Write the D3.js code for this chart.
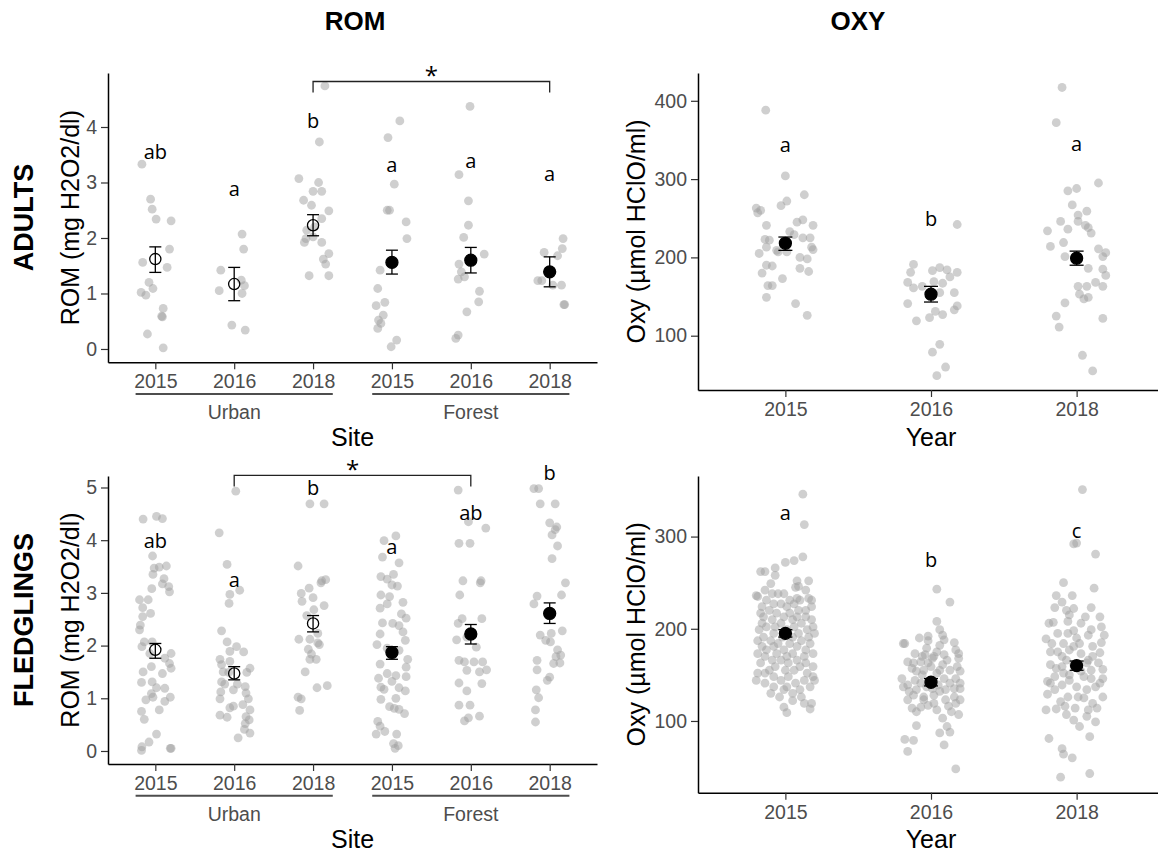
<!DOCTYPE html>
<html>
<head>
<meta charset="utf-8">
<script src="https://cdn.jsdelivr.net/npm/d3@7"></script>
<style>
body { margin: 0; background: #fff; }
text { font-family: "Liberation Sans", Arial, sans-serif; }
.lett { font-family: "Open Sans", sans-serif; }
</style>
</head>
<body>
<div id="chart"></div>
<script>
// categories
var siteYears = ["2015", "2016", "2018", "2015", "2016", "2018"];
var siteGroups = ["Urban", "Urban", "Urban", "Forest", "Forest", "Forest"];
var oxyYears = ["2015", "2016", "2018"];

// ROM adults: [jitter (in category steps), value] per group
var romAdultPts = [
  [[-0.17,3.33],[-0.06,2.70],[-0.04,2.52],[0.01,2.34],[0.20,2.31],[0.18,1.80],[-0.16,1.56],[0.15,1.47],[-0.08,1.20],[-0.03,1.09],[-0.18,1.02],[-0.12,0.97],[0.10,0.73],[0.08,0.59],[0.09,0.58],[-0.10,0.27],[0.10,0.02]],
  [[0.10,2.07],[0.12,1.80],[-0.17,1.42],[0.09,1.24],[0.13,1.14],[-0.19,1.05],[0.10,1.00],[-0.03,0.43],[0.14,0.34]],
  [[0.15,4.74],[0.08,3.73],[-0.18,3.07],[0.07,3.00],[0.00,2.84],[0.11,2.84],[-0.12,2.68],[-0.02,2.59],[0.20,2.49],[0.11,2.35],[-0.08,2.14],[0.00,2.02],[-0.09,1.99],[-0.11,1.92],[0.11,1.92],[0.20,1.72],[0.13,1.62],[0.16,1.53],[-0.05,1.32],[0.20,1.32],[0.02,2.20]],
  [[0.10,4.11],[-0.05,3.81],[0.03,2.97],[-0.06,2.50],[-0.03,2.50],[0.18,2.29],[0.19,1.99],[-0.15,1.42],[-0.18,1.09],[-0.20,0.78],[-0.09,0.84],[-0.11,0.61],[-0.17,0.52],[-0.14,0.46],[-0.18,0.37],[0.06,0.16],[-0.01,0.04]],
  [[-0.01,4.37],[-0.15,3.14],[-0.03,2.67],[-0.03,2.23],[-0.09,2.01],[0.17,1.71],[-0.15,1.53],[-0.12,1.39],[-0.16,1.26],[-0.08,1.30],[0.11,1.04],[0.10,0.85],[-0.05,0.67],[-0.16,0.25],[-0.19,0.19]],
  [[0.17,1.99],[0.16,1.81],[-0.07,1.74],[0.10,1.68],[-0.15,1.23],[-0.10,1.23],[0.04,1.15],[0.15,1.15],[0.18,0.80],[0.19,0.80]]
];
var romAdultMean = [1.62, 1.17, 2.23, 1.56, 1.60, 1.39];
var romAdultLo = [1.38, 0.87, 2.04, 1.35, 1.37, 1.12];
var romAdultHi = [1.84, 1.47, 2.42, 1.78, 1.83, 1.66];
var romAdultLetters = ["ab", "a", "b", "a", "a", "a"];
var romAdultLetterY = [3.43, 2.76, 3.99, 3.19, 3.26, 3.03];

// OXY adults
var oxyAdultPts = [
  [[-0.135,388],[0.00,304],[0.13,280],[0.01,272],[-0.03,266],[-0.20,263],[-0.17,260],[-0.19,257],[-0.13,241],[0.08,245],[0.12,248],[0.19,241],[0.03,233],[0.06,229],[-0.14,223],[-0.11,222],[0.12,225],[0.17,225],[-0.13,213],[-0.06,209],[-0.05,207],[0.01,207],[0.18,213],[0.19,210],[-0.18,205],[0.10,200],[0.15,198],[-0.13,190],[-0.09,189],[0.10,186],[0.16,182],[-0.16,180],[-0.02,173],[-0.12,164],[-0.09,164],[-0.13,149],[0.07,141],[0.15,126]],
  [[0.18,242],[-0.12,191],[-0.14,181],[0.01,183],[0.06,187],[0.11,184],[0.18,181],[0.13,175],[-0.16,168],[0.02,169],[0.08,167],[-0.12,161],[-0.06,163],[0.06,155],[0.16,155],[-0.01,151],[-0.16,141],[0.18,138],[0.16,133],[0.03,131],[0.08,127],[-0.01,123],[-0.10,119],[0.06,89],[0.01,79],[0.10,60],[0.04,49]],
  [[-0.10,417],[-0.14,372],[0.15,295],[-0.06,285],[0.00,288],[-0.03,267],[0.07,259],[0.01,254],[-0.11,246],[0.01,246],[-0.06,236],[0.06,241],[0.08,238],[-0.20,234],[0.10,231],[-0.09,219],[-0.18,214],[0.15,211],[0.20,206],[0.18,201],[-0.08,201],[0.00,200],[0.08,186],[0.18,185],[0.20,177],[0.13,168],[0.01,163],[0.07,163],[0.18,163],[0.02,153],[0.05,147],[0.08,149],[-0.08,142],[-0.14,125],[0.18,122],[-0.12,111],[0.04,75],[0.11,55]]
];
var oxyAdultMean = [218, 153, 199];
var oxyAdultLo = [209, 143, 190];
var oxyAdultHi = [226, 163, 208];
var oxyAdultLetters = ["a", "b", "a"];
var oxyAdultLetterY = [334, 240, 336];

// ROM fledglings
var romFledgPts = [
  [[-0.155,4.40],[0.015,4.45],[0.09,4.41],[-0.035,3.70],[-0.015,3.47],[0.05,3.49],[0.14,3.51],[-0.03,3.35],[0.11,3.27],[0.09,3.17],[0.17,3.12],[0.18,3.02],[-0.045,3.08],[-0.09,2.87],[-0.20,2.87],[-0.16,2.72],[-0.06,2.61],[-0.16,2.55],[-0.19,2.39],[-0.20,2.30],[-0.14,2.07],[-0.04,2.07],[-0.17,1.98],[0.20,1.85],[-0.07,1.85],[0.12,1.76],[0.18,1.66],[0.20,1.57],[-0.155,1.50],[-0.05,1.60],[0.09,1.47],[-0.175,1.30],[-0.04,1.31],[0.015,1.20],[0.12,1.19],[-0.05,1.09],[-0.03,1.02],[-0.12,0.97],[0.19,1.02],[0.12,0.94],[-0.175,0.75],[0.05,0.78],[-0.14,0.60],[0.015,0.32],[-0.08,0.17],[-0.17,0.08],[-0.175,0.01],[0.19,0.05],[0.20,0.05]],
  [[0.02,4.93],[-0.19,4.14],[-0.09,3.54],[-0.055,2.97],[0.07,3.05],[-0.065,2.80],[-0.16,2.28],[-0.09,2.07],[0.03,1.98],[-0.055,1.89],[0.12,1.88],[-0.18,1.74],[-0.16,1.64],[-0.055,1.70],[0.20,1.57],[-0.14,1.50],[-0.07,1.49],[0.16,1.49],[-0.16,1.31],[-0.12,1.27],[0.04,1.27],[-0.01,1.16],[0.14,1.22],[-0.17,1.12],[0.15,1.10],[0.18,0.99],[-0.18,0.99],[-0.055,0.82],[-0.01,0.85],[0.11,0.88],[0.20,0.78],[-0.18,0.68],[-0.09,0.64],[0.15,0.65],[0.14,0.52],[0.19,0.59],[0.13,0.41],[0.20,0.34],[0.05,0.25]],
  [[-0.04,4.69],[0.14,4.69],[-0.19,3.51],[0.11,3.23],[0.16,3.25],[0.10,3.19],[-0.15,2.99],[-0.05,3.09],[0.00,2.91],[0.14,2.76],[-0.14,2.84],[0.01,2.68],[-0.08,2.57],[0.06,2.23],[-0.18,2.12],[-0.04,2.12],[0.08,2.02],[0.06,2.05],[-0.06,1.93],[-0.02,1.84],[-0.04,1.74],[0.04,1.74],[-0.10,1.50],[0.05,1.20],[0.18,1.24],[-0.19,1.02],[-0.15,0.99],[-0.17,0.77]],
  [[0.05,4.08],[-0.10,3.99],[-0.12,3.68],[0.09,3.57],[-0.14,3.31],[-0.06,3.26],[0.02,3.35],[0.07,3.13],[0.00,3.15],[-0.14,2.96],[-0.03,2.93],[0.14,2.82],[-0.06,2.79],[-0.15,2.71],[0.12,2.60],[0.18,2.52],[-0.12,2.43],[0.01,2.42],[0.09,2.38],[0.14,2.26],[-0.15,2.22],[0.17,2.10],[-0.19,2.02],[-0.06,1.95],[0.09,1.91],[0.20,1.74],[-0.15,1.65],[0.18,1.59],[-0.06,1.47],[0.05,1.43],[-0.17,1.38],[0.18,1.41],[0.00,1.32],[-0.14,1.21],[-0.10,1.17],[0.09,1.20],[0.17,1.14],[-0.14,0.98],[0.05,1.00],[-0.03,0.84],[0.03,0.81],[0.09,0.79],[0.16,0.71],[-0.18,0.56],[-0.15,0.47],[-0.20,0.32],[-0.09,0.37],[0.06,0.32],[0.02,0.14],[0.08,0.10],[0.04,0.05]],
  [[-0.16,4.95],[-0.03,4.35],[0.19,4.23],[-0.15,3.94],[-0.01,3.94],[-0.10,3.23],[0.13,3.23],[0.12,3.19],[-0.14,2.96],[0.14,2.51],[-0.11,2.51],[-0.16,2.42],[-0.18,2.11],[-0.05,2.16],[0.07,1.97],[-0.15,1.72],[-0.08,1.69],[0.04,1.69],[0.15,1.69],[-0.05,1.53],[0.11,1.50],[0.20,1.54],[-0.15,1.29],[0.14,1.28],[-0.05,1.14],[-0.15,0.87],[-0.01,0.87],[0.11,0.66],[-0.08,0.57],[-0.03,0.63]],
  [[-0.20,4.98],[-0.14,4.98],[-0.12,4.69],[0.07,4.69],[0.00,4.33],[0.09,4.25],[0.07,4.20],[0.03,4.10],[0.10,3.89],[0.03,3.65],[0.20,3.19],[0.15,2.96],[-0.16,2.94],[-0.20,2.79],[-0.12,2.20],[0.02,2.23],[0.16,2.28],[-0.05,2.10],[0.01,2.07],[0.10,1.92],[0.14,1.82],[0.08,1.79],[-0.16,1.72],[0.05,1.66],[0.13,1.67],[-0.16,1.54],[0.00,1.40],[-0.03,1.34],[-0.17,1.16],[-0.14,1.01],[-0.18,0.78],[-0.18,0.55]]
];
var romFledgMean = [1.92, 1.47, 2.42, 1.87, 2.22, 2.61];
var romFledgLo = [1.76, 1.35, 2.26, 1.74, 2.03, 2.42];
var romFledgHi = [2.04, 1.60, 2.57, 1.98, 2.40, 2.81];
var romFledgLetters = ["ab", "a", "b", "a", "ab", "b"];
var romFledgLetterY = [3.85, 3.12, 4.86, 3.74, 4.38, 5.14];

// OXY fledglings
var oxyFledgPts = [
  [[0.12,346],[0.13,313],[0.12,278],[0.06,274],[0.00,272],[-0.07,266],[-0.17,262],[-0.14,262],[-0.07,258],[0.16,252],[0.08,252],[-0.10,249],[0.09,246],[0.07,245],[-0.14,242],[0.14,242],[-0.09,238],[-0.05,238],[-0.01,238],[-0.19,235],[-0.20,236],[0.16,233],[0.08,233],[-0.13,231],[0.03,231],[0.10,231],[0.18,231],[-0.08,227],[-0.03,227],[0.06,227],[-0.16,224],[0.01,224],[0.18,224],[-0.11,220],[0.09,220],[0.14,220],[0.03,217],[-0.06,217],[-0.17,217],[-0.15,213],[0.08,213],[0.14,213],[-0.01,213],[-0.09,210],[0.05,210],[0.18,210],[-0.16,206],[-0.03,206],[0.11,206],[-0.13,202],[-0.07,202],[0.06,202],[0.19,202],[-0.18,199],[0.01,199],[0.15,199],[-0.08,195],[0.09,195],[0.20,195],[-0.15,191],[-0.02,191],[0.05,191],[0.16,191],[-0.19,187],[-0.10,187],[0.11,187],[-0.05,184],[0.03,184],[0.17,184],[-0.16,181],[-0.08,181],[0.08,181],[-0.13,177],[-0.01,177],[0.14,177],[-0.19,173],[-0.06,173],[0.05,173],[0.19,173],[-0.14,170],[0.01,170],[0.13,170],[-0.09,166],[-0.03,166],[0.08,166],[-0.17,163],[0.02,163],[0.14,163],[-0.07,159],[0.10,159],[0.19,159],[-0.11,155],[0.00,155],[0.06,155],[-0.19,152],[-0.14,152],[0.15,152],[-0.08,148],[0.02,148],[0.19,148],[-0.20,144],[-0.03,144],[0.13,144],[0.20,144],[-0.14,141],[0.07,141],[-0.08,137],[0.01,137],[0.17,137],[-0.01,134],[0.10,134],[-0.10,130],[0.05,130],[0.11,126],[-0.04,126],[0.05,122],[0.18,119],[0.13,119],[-0.01,115],[0.17,113],[0.01,109]],
  [[0.04,243],[0.13,229],[0.04,208],[0.06,199],[0.08,193],[-0.02,192],[-0.08,190],[0.09,188],[-0.02,187],[0.16,185],[-0.19,184],[-0.18,184],[0.06,182],[0.17,177],[0.19,173],[-0.11,173],[-0.04,172],[0.02,170],[-0.16,164],[0.11,166],[-0.07,164],[-0.02,163],[0.18,159],[-0.13,157],[0.06,155],[0.13,155],[-0.20,146],[-0.06,150],[-0.11,144],[0.09,146],[0.17,146],[-0.16,139],[-0.03,137],[0.05,139],[0.20,135],[-0.15,132],[-0.10,134],[0.10,134],[0.02,128],[0.16,126],[-0.16,123],[-0.05,123],[0.20,123],[0.02,119],[0.17,119],[-0.13,114],[-0.07,115],[0.04,112],[0.14,110],[0.19,107],[-0.10,110],[0.08,103],[-0.10,95],[0.11,94],[0.13,88],[0.06,87],[-0.18,80],[-0.12,79],[0.09,74],[-0.16,67],[0.17,48],[0.00,159],[0.04,152],[0.01,144],[-0.07,141],[0.13,141],[-0.05,155],[0.08,161],[-0.12,163],[0.04,175],[-0.03,179],[0.19,168],[0.20,154],[0.20,141],[-0.02,117],[0.10,123],[0.16,135],[-0.19,137],[-0.12,128],[-0.06,170],[0.01,168],[0.09,172],[-0.10,154],[0.01,135],[0.06,132],[-0.05,126],[0.12,116]],
  [[0.04,351],[-0.02,292],[0.00,293],[0.13,281],[-0.09,250],[0.12,244],[-0.14,236],[-0.03,236],[-0.10,229],[-0.15,223],[0.10,223],[-0.07,220],[-0.05,215],[0.16,213],[-0.19,206],[-0.16,207],[-0.06,208],[0.03,206],[0.17,202],[0.10,199],[-0.02,198],[-0.21,189],[-0.13,195],[0.08,193],[0.19,193],[0.17,185],[0.00,190],[-0.09,184],[-0.18,175],[-0.05,177],[0.11,181],[0.16,174],[0.03,173],[-0.10,170],[0.08,166],[-0.18,161],[-0.10,159],[0.15,163],[0.18,156],[0.03,154],[-0.15,148],[-0.05,150],[0.10,146],[-0.20,143],[0.16,141],[-0.10,139],[0.00,137],[-0.15,134],[0.07,134],[-0.20,129],[0.18,126],[-0.06,126],[0.05,125],[-0.11,121],[0.11,119],[-0.21,112],[-0.14,113],[-0.01,114],[0.14,114],[-0.07,107],[0.07,105],[-0.02,101],[0.02,94],[0.13,99],[-0.19,81],[0.09,83],[-0.10,70],[-0.09,64],[-0.03,60],[0.09,43],[-0.11,39],[-0.02,181],[-0.07,166],[-0.14,157],[0.10,155],[-0.05,144],[0.05,148],[-0.09,152],[0.13,137],[-0.18,141],[0.01,126],[0.08,112],[-0.08,116],[-0.17,184],[0.02,184],[0.11,170],[-0.02,161],[0.18,146],[0.07,163],[-0.13,175],[-0.06,195],[0.06,213],[-0.02,222]]
];
var oxyFledgMean = [195, 142, 160];
var oxyFledgLo = [191, 138, 155];
var oxyFledgHi = [199, 146, 165];
var oxyFledgLetters = ["a", "b", "c"];
var oxyFledgLetterY = [318, 267, 298];

var svg = d3.select("#chart")
  .append("svg")
  .attr("width", 1158)
  .attr("height", 855)
  .style("background", "#fff");

function drawPanel(p) {
  var x = d3.scalePoint().domain(d3.range(p.years.length)).range([p.left, p.right]).padding(0.6);
  var y = d3.scaleLinear().domain(p.yDomain).range([p.bottom, p.top]);
  var g = svg.append("g");
  var step = x.step();

  // jittered raw points
  p.points.forEach(function(grp, i) {
    g.selectAll(null)
      .data(grp)
      .enter().append("circle")
      .attr("cx", function(d) { return x(i) + d[0] * step; })
      .attr("cy", function(d) { return y(d[1]); })
      .attr("r", 4.4)
      .style("fill", "#a0a0a0")
      .style("opacity", 0.5);
  });

  // error bars
  var idx = d3.range(p.means.length);
  var eb = g.selectAll(".eb").data(idx).enter().append("g");
  eb.append("line")
    .attr("x1", function(i) { return x(i); }).attr("x2", function(i) { return x(i); })
    .attr("y1", function(i) { return y(p.lo[i]); }).attr("y2", function(i) { return y(p.hi[i]); });
  eb.append("line")
    .attr("x1", function(i) { return x(i) - p.cap; }).attr("x2", function(i) { return x(i) + p.cap; })
    .attr("y1", function(i) { return y(p.lo[i]); }).attr("y2", function(i) { return y(p.lo[i]); });
  eb.append("line")
    .attr("x1", function(i) { return x(i) - p.cap; }).attr("x2", function(i) { return x(i) + p.cap; })
    .attr("y1", function(i) { return y(p.hi[i]); }).attr("y2", function(i) { return y(p.hi[i]); });
  eb.selectAll("line").style("stroke", "#000").style("stroke-width", 1.3);

  // means: open for Urban, filled otherwise
  g.selectAll(".mean").data(idx).enter().append("circle")
    .attr("cx", function(i) { return x(i); })
    .attr("cy", function(i) { return y(p.means[i]); })
    .attr("r", function(i) { return p.groups && p.groups[i] === "Urban" ? 5.6 : 6; })
    .style("fill", function(i) { return p.groups && p.groups[i] === "Urban" ? "none" : "#000"; })
    .style("stroke", "#000")
    .style("stroke-width", 1.3);

  // letters
  g.selectAll(".lett").data(idx).enter().append("text")
    .attr("class", "lett")
    .attr("x", function(i) { return x(i); })
    .attr("y", function(i) { return y(p.letterY[i]); })
    .attr("text-anchor", "middle")
    .style("font-size", "20px")
    .style("fill", "#000")
    .text(function(i) { return p.letters[i]; });

  // significance bracket
  if (p.bracket) {
    var b = p.bracket;
    g.append("path")
      .attr("d", "M" + x(b.from) + "," + y(b.tip) + "V" + y(b.line) + "H" + x(b.to) + "V" + y(b.tip))
      .style("fill", "none").style("stroke", "#222").style("stroke-width", 1.3);
    g.append("text")
      .attr("class", "lett")
      .attr("x", (x(b.from) + x(b.to)) / 2)
      .attr("y", y(b.line) + 3)
      .attr("text-anchor", "middle")
      .style("font-size", "24px")
      .text("*");
  }

  // axes
  var ya = g.append("g")
    .attr("transform", "translate(" + p.left + ",0)")
    .call(d3.axisLeft(y).tickValues(p.yTicks).tickFormat(d3.format("d"))
      .tickSize(7).tickSizeOuter(0).tickPadding(4));
  var xa = g.append("g")
    .attr("transform", "translate(0," + p.bottom + ")")
    .call(d3.axisBottom(x).tickSize(7).tickSizeOuter(0).tickPadding(5)
      .tickFormat(function(i) { return p.years[i]; }));
  [ya, xa].forEach(function(a) {
    a.select(".domain").style("stroke", "#000").style("stroke-width", 1.5);
    a.selectAll(".tick line").style("stroke", "#333").style("stroke-width", 1.2);
    a.selectAll(".tick text").style("font-size", "19.5px").style("fill", "#4D4D4D");
  });

  // Urban / Forest grouping under the years
  var xTitleOff = 55.6;
  if (p.groups) {
    var names = ["Urban", "Forest"];
    names.forEach(function(nm) {
      var ids = idx.filter(function(i) { return p.groups[i] === nm; });
      var x0 = x(ids[0]) - 0.25 * step, x1 = x(ids[ids.length - 1]) + 0.25 * step;
      g.append("line")
        .attr("x1", x0).attr("x2", x1)
        .attr("y1", p.bottom + 31.7).attr("y2", p.bottom + 31.7)
        .style("stroke", "#4D4D4D").style("stroke-width", 2);
      g.append("text")
        .attr("x", (x0 + x1) / 2)
        .attr("y", p.bottom + 56.8)
        .attr("text-anchor", "middle")
        .style("font-size", "19.5px")
        .style("fill", "#4D4D4D")
        .text(nm);
    });
    xTitleOff = 83.5;
  }

  g.append("text")
    .attr("x", (p.left + p.right) / 2)
    .attr("y", p.bottom + xTitleOff)
    .attr("text-anchor", "middle")
    .style("font-size", "25px")
    .text(p.xTitle);

  g.append("text")
    .attr("transform", "translate(" + p.yTitleX + "," + ((p.top + p.bottom) / 2) + ") rotate(-90)")
    .attr("text-anchor", "middle")
    .style("font-size", "25px")
    .text(p.yTitle);
}

drawPanel({
  left: 108, right: 597, top: 73, bottom: 362.3,
  yDomain: [-0.24, 4.973], yTicks: [0, 1, 2, 3, 4],
  years: siteYears, groups: siteGroups,
  points: romAdultPts, means: romAdultMean, lo: romAdultLo, hi: romAdultHi, cap: 6,
  letters: romAdultLetters, letterY: romAdultLetterY,
  bracket: { from: 2, to: 5, line: 4.82, tip: 4.62 },
  xTitle: "Site", yTitle: "ROM (mg H2O2/dl)", yTitleX: 79
});

drawPanel({
  left: 698, right: 1164, top: 73, bottom: 390,
  yDomain: [30.65, 435.5], yTicks: [100, 200, 300, 400],
  years: oxyYears,
  points: oxyAdultPts, means: oxyAdultMean, lo: oxyAdultLo, hi: oxyAdultHi, cap: 7,
  letters: oxyAdultLetters, letterY: oxyAdultLetterY,
  xTitle: "Year", yTitle: "Oxy (µmol HClO/ml)", yTitleX: 645
});

drawPanel({
  left: 108, right: 597, top: 476, bottom: 764,
  yDomain: [-0.247, 5.218], yTicks: [0, 1, 2, 3, 4, 5],
  years: siteYears, groups: siteGroups,
  points: romFledgPts, means: romFledgMean, lo: romFledgLo, hi: romFledgHi, cap: 6,
  letters: romFledgLetters, letterY: romFledgLetterY,
  bracket: { from: 1, to: 4, line: 5.23, tip: 5.02 },
  xTitle: "Site", yTitle: "ROM (mg H2O2/dl)", yTitleX: 79
});

drawPanel({
  left: 698, right: 1164, top: 476, bottom: 792.7,
  yDomain: [22.2, 365.7], yTicks: [100, 200, 300],
  years: oxyYears,
  points: oxyFledgPts, means: oxyFledgMean, lo: oxyFledgLo, hi: oxyFledgHi, cap: 7,
  letters: oxyFledgLetters, letterY: oxyFledgLetterY,
  xTitle: "Year", yTitle: "Oxy (µmol HClO/ml)", yTitleX: 645
});

// column and row titles
svg.append("text").attr("x", 355).attr("y", 30).attr("text-anchor", "middle")
  .style("font-size", "26px").style("font-weight", "bold").text("ROM");
svg.append("text").attr("x", 858).attr("y", 30).attr("text-anchor", "middle")
  .style("font-size", "26px").style("font-weight", "bold").text("OXY");
svg.append("text").attr("transform", "translate(33,217.5) rotate(-90)").attr("text-anchor", "middle")
  .style("font-size", "27px").style("font-weight", "bold").text("ADULTS");
svg.append("text").attr("transform", "translate(33,620) rotate(-90)").attr("text-anchor", "middle")
  .style("font-size", "27px").style("font-weight", "bold").text("FLEDGLINGS");
</script>
</body>
</html>
